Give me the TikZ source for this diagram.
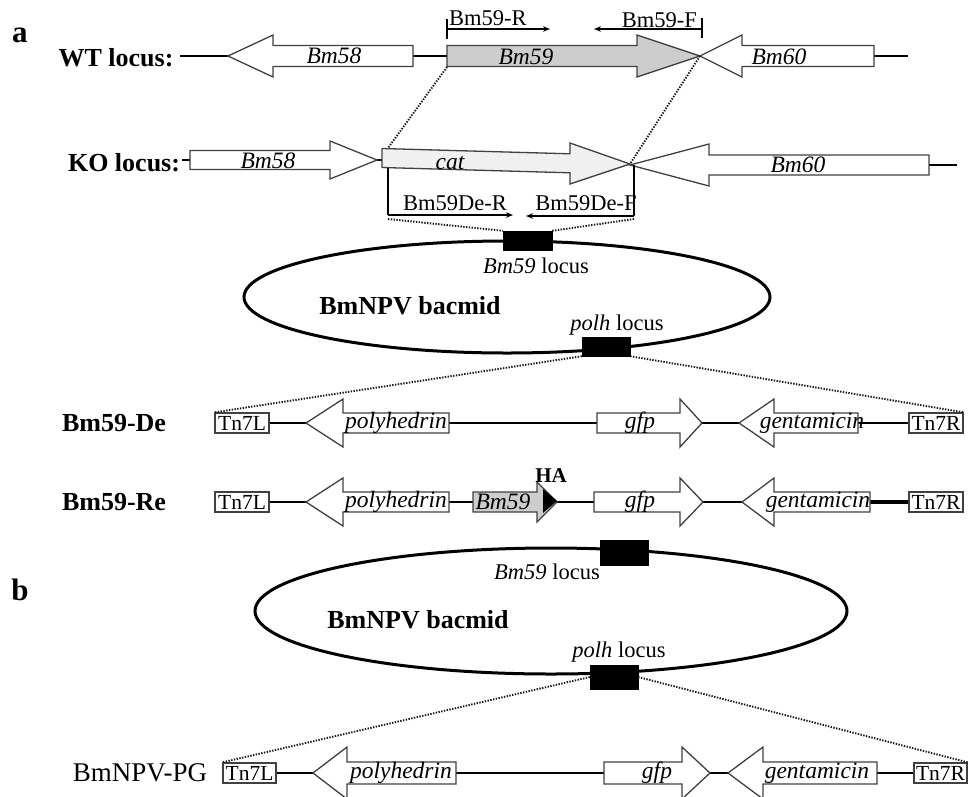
\documentclass[tikz,border=0pt]{standalone}
\usepackage{fontspec}
\setmainfont{Liberation Serif}
\usetikzlibrary{arrows.meta}

\tikzset{
  genebox/.style={draw=black!75, line width=1.3pt, line join=miter},
  backbone/.style={line width=2.5pt, black},
  zoomline/.style={dash pattern=on 1.4pt off 1.4pt, line width=1.9pt, black!90},
  primer/.style={line width=1.4pt, black},
  primerarrow/.style={primer, -{Stealth[length=7pt,width=5.5pt]}},
  genelbl/.style={font=\fontsize{23.5}{25}\selectfont\itshape, inner sep=0pt},
  txt/.style={font=\fontsize{22.5}{24}\selectfont, inner sep=0pt},
  boldlbl/.style={font=\fontsize{26}{28}\selectfont\bfseries, inner sep=0pt},
  panel/.style={font=\fontsize{31}{33}\selectfont\bfseries, inner sep=0pt},
  locusbox/.style={fill=black, draw=black, inner sep=0pt},
  plasmid/.style={line width=3pt, black},
  tnbox/.style={draw=black!75, line width=1.3pt, fill=white, minimum height=20pt,
    inner sep=0pt, font=\fontsize{21.5}{22}\selectfont},
}
\definecolor{genegray}{RGB}{205,205,205}
\definecolor{catgray}{RGB}{240,240,240}

% gene arrow: tail x, head-base x, tip x, centre y, body half height, head half height, fill
\newcommand\gene[7]{%
  \draw[genebox, fill=#7] (#1,#4-#5) -- (#2,#4-#5) -- (#2,#4-#6) -- (#3,#4)
    -- (#2,#4+#6) -- (#2,#4+#5) -- (#1,#4+#5) -- cycle;}

\begin{document}
\begin{tikzpicture}[x=1pt, y=-1pt]
\useasboundingbox (0,0) rectangle (972,796);
\clip (0,0) rectangle (972,796);

% ---------------- panel a ----------------
\node[panel] (pa) at (20,35) {a};

% WT locus
\node[boldlbl] (wtlbl) at (116,58) {WT locus:};
\draw[backbone] (180,56) -- (908,56);
\gene{413}{273}{228}{56}{10.5}{21}{white}
\gene{447}{637}{700}{56}{10.5}{21}{genegray}
\gene{874}{742}{700}{56}{10.5}{21}{white}
\node[genelbl] (wt58) at (334,56) {Bm58};
\node[genelbl] (wt59) at (526,57) {Bm59};
\node[genelbl] (wt60) at (779,57) {Bm60};

% WT primers
\coordinate (rTop) at (447,19); \coordinate (rBot) at (447,39);
\coordinate (rA) at (447,29); \coordinate (rB) at (550,29);
\draw[primer] (rTop) -- (rBot);
\draw[primerarrow] (rA) -- (rB);
\node[txt, anchor=base west] (pR) at (449,25) {Bm59-R};
\coordinate (fTop) at (702,18); \coordinate (fBot) at (702,38);
\coordinate (fA) at (702,29); \coordinate (fB) at (594,29);
\draw[primer] (fTop) -- (fBot);
\draw[primerarrow] (fA) -- (fB);
\node[txt, anchor=base east] (pF) at (697,27) {Bm59-F};

% KO locus
\node[boldlbl] (kolbl) at (124,163) {KO locus:};
\draw[backbone] (182,160) -- (190,160);
\draw[backbone] (377,160) -- (382,160);
\draw[backbone] (929,165) -- (957,165);
\gene{190}{330}{377}{160}{9.5}{19}{white}
\draw[genebox, fill=catgray] (382,148.5) -- (570,153.8) -- (570,143) -- (630,164)
  -- (570,184) -- (570,172.8) -- (382,167.5) -- cycle;
\gene{929}{709}{630}{165}{10}{21}{white}
\node[genelbl] (ko58) at (268,161) {Bm58};
\node[genelbl] (kocat) at (450,163) {cat};
\node[genelbl] (ko60) at (798,165) {Bm60};

% zoom lines WT -> KO
\coordinate (wtL) at (447,67); \coordinate (wtT) at (700,56);
\coordinate (koL) at (388,148); \coordinate (koT) at (630,164);
\draw[zoomline] (wtL) -- (koL);
\draw[zoomline] (wtT) -- (koT);

% KO primers
\coordinate (dRa) at (388,168); \coordinate (dRb) at (388,215); \coordinate (dRc) at (513,215);
\draw[primer] (dRa) -- (dRb);
\draw[primerarrow] (dRb) -- (dRc);
\node[txt, anchor=base] (pdR) at (455,210) {Bm59De-R};
\coordinate (dFa) at (634,165); \coordinate (dFb) at (634,216); \coordinate (dFc) at (526,216);
\draw[primer] (dFa) -- (dFb);
\draw[primerarrow] (dFb) -- (dFc);
\node[txt, anchor=base] (pdF) at (586,210) {Bm59De-F};

% bacmid a
\draw[plasmid] (507,297) ellipse [x radius=263pt, y radius=56pt];
\node[locusbox, minimum width=49pt, minimum height=19pt] (locA) at (527.5,240.5) {};
\node[locusbox, minimum width=48pt, minimum height=19pt] (polA) at (606,346.5) {};
\node[txt] (locAl) at (536,266) {\textit{Bm59} locus};
\node[txt] (polAl) at (617,325) {\textit{polh} locus};
\node[boldlbl] (bacA) at (410,306) {BmNPV bacmid};
\coordinate (dRd) at (388,219); \coordinate (dFd) at (634,219);
\draw[zoomline] (dRd) -- (locA.north west);
\draw[zoomline] (dFd) -- (locA.north east);

% Bm59-De construct
\node[boldlbl] (delbl) at (114,423) {Bm59-De};
\node[tnbox, minimum width=54pt] (deL) at (242,423) {Tn7L};
\node[tnbox, minimum width=54pt] (deR) at (936,423) {Tn7R};
\draw[backbone] (deL.east) -- (deR.west);
\gene{449}{343}{306}{423}{10}{24}{white}
\gene{597}{680}{702}{423}{10}{24}{white}
\gene{858}{774}{739}{423}{10}{24}{white}
\node[genelbl] (deP) at (396,423) {polyhedrin};
\node[genelbl] (deG) at (640,423) {gfp};
\node[genelbl] (deN) at (812,423) {gentamicin};
\draw[zoomline] (polA.south west) -- (deL.north west);
\draw[zoomline] (polA.south east) -- (deR.north east);

% Bm59-Re construct
\node[boldlbl] (relbl) at (114,502) {Bm59-Re};
\node[tnbox, minimum width=54pt] (reL) at (242,502) {Tn7L};
\node[tnbox, minimum width=54pt] (reR) at (936,502) {Tn7R};
\draw[backbone] (reL.east) -- (reR.west);
\draw[line width=3.5pt] (870,502) -- (reR.west);
\gene{449}{343}{306}{502}{10}{24}{white}
\gene{473}{537}{557}{502}{10}{20}{genegray}
\fill[black] (543,489) -- (557,501) -- (543,513) -- cycle;
\gene{594}{680}{703}{502}{10}{24}{white}
\gene{870}{774}{742}{502}{10}{24}{white}
\node[genelbl] (reP) at (396,502) {polyhedrin};
\node[genelbl] (re59) at (503,502) {Bm59};
\node[genelbl] (reG) at (640,502) {gfp};
\node[genelbl] (reN) at (818,502) {gentamicin};
\node[font=\fontsize{21}{22}\selectfont\bfseries, inner sep=0pt] (ha) at (551,476) {HA};

% ---------------- panel b ----------------
\node[panel] (pb) at (20,590) {b};
\draw[plasmid] (551,611) ellipse [x radius=296pt, y radius=63pt];
\node[locusbox, minimum width=48pt, minimum height=25pt] (locB) at (624,552.5) {};
\node[locusbox, minimum width=48pt, minimum height=24pt] (polB) at (614,677) {};
\node[txt] (locBl) at (547,572) {\textit{Bm59} locus};
\node[txt] (polBl) at (619,652) {\textit{polh} locus};
\node[boldlbl] (bacB) at (418,620) {BmNPV bacmid};

% BmNPV-PG construct
\node[font=\fontsize{27}{29}\selectfont, inner sep=0pt] (pglbl) at (140,773) {BmNPV-PG};
\node[tnbox, minimum width=53pt] (pgL) at (249.5,773) {Tn7L};
\node[tnbox, minimum width=53pt] (pgR) at (940.5,773) {Tn7R};
\draw[backbone] (pgL.east) -- (pgR.west);
\gene{456}{347}{313}{773}{11}{26}{white}
\gene{604}{682}{710}{773}{11}{26}{white}
\gene{877}{763}{728}{773}{11}{26}{white}
\node[genelbl] (pgP) at (401,773) {polyhedrin};
\node[genelbl] (pgG) at (657,773) {gfp};
\node[genelbl] (pgN) at (817,773) {gentamicin};
\draw[zoomline] (polB.west) -- (pgL.north west);
\draw[zoomline] (polB.east) -- (pgR.north east);
\end{tikzpicture}
\end{document}
